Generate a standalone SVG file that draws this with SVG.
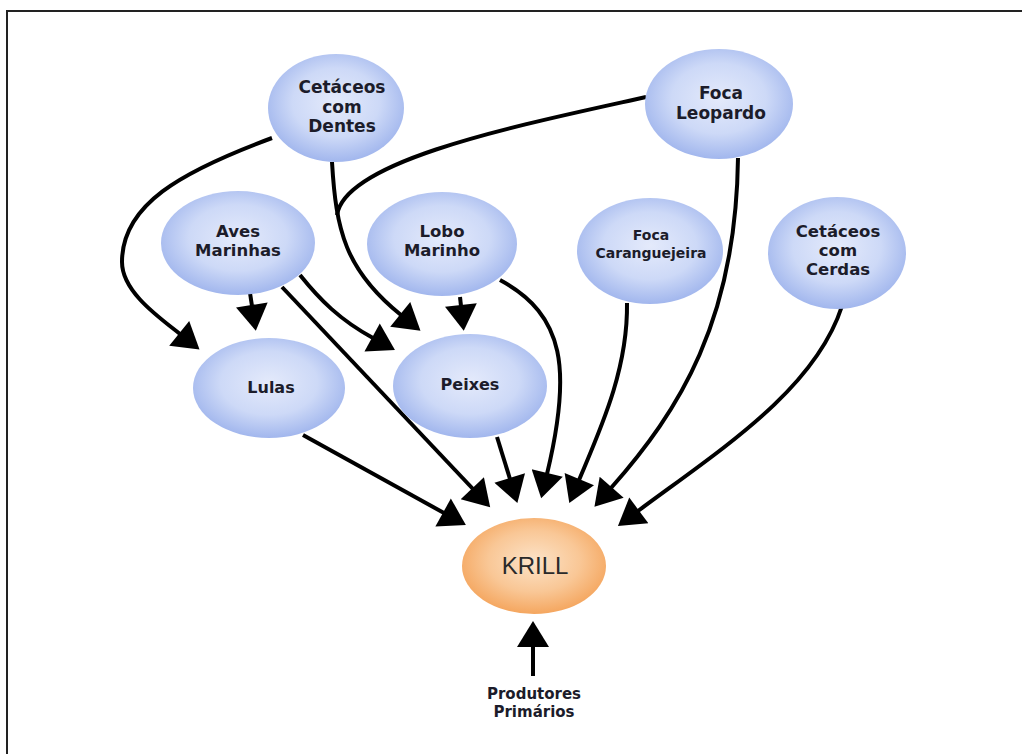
<svg xmlns="http://www.w3.org/2000/svg" width="1022" height="754" viewBox="0 0 1022 754">
<defs>
<radialGradient id="blue" cx="50%" cy="45%" r="58%">
<stop offset="0" stop-color="#e4eafb"/>
<stop offset="0.55" stop-color="#cdd9f7"/>
<stop offset="1" stop-color="#9cb2ec"/>
</radialGradient>
<radialGradient id="orange" cx="50%" cy="45%" r="58%">
<stop offset="0" stop-color="#fce3c8"/>
<stop offset="0.55" stop-color="#f9c796"/>
<stop offset="1" stop-color="#f4a258"/>
</radialGradient>
<marker id="arr" markerUnits="userSpaceOnUse" markerWidth="28" markerHeight="32" viewBox="0 0 26 32" refX="1" refY="16" orient="auto">
<path d="M0,0 L26,16 L0,32 z" fill="#000"/>
</marker>
</defs>
<style>
.n{fill:url(#blue);}
.k{fill:url(#orange);}
.t{font-family:"DejaVu Sans","Liberation Sans",sans-serif;font-weight:bold;fill:#1c1c2a;text-anchor:middle;}
.c path{fill:none;stroke:#000;stroke-width:4;marker-end:url(#arr);}
.c path.m{marker-end:none;}
</style>
<rect x="0" y="0" width="1022" height="754" fill="#fff"/>
<rect x="7" y="11" width="1030" height="760" fill="#fff" stroke="#222" stroke-width="2"/>

<g id="connectors" class="c">
<path class="m" d="M646,97 C520,125 345,160 337,215"/>
<path d="M272,138 C180,172 122,205 122,262 C122,292 160,318 180,334"/>
<path d="M332,162 C336,230 345,270 401,315"/>
<path d="M250,293 L252,306"/>
<path d="M300,275 C320,300 340,320 373,338"/>
<path d="M282,287 L473,489"/>
<path d="M303,435 L444,513"/>
<path d="M497,437 L510,479"/>
<path d="M460,297 L461,306"/>
<path d="M500,280 C565,315 572,370 547,474"/>
<path d="M627,303 C628,370 600,430 579,480"/>
<path d="M738,158 C736,320 680,410 611,488"/>
<path d="M842,306 C815,390 720,450 638,511"/>
<path d="M533,676 L533,646"/>
</g>

<g id="dentes"><ellipse class="n" cx="336" cy="108" rx="68" ry="54"/>
<text class="t" x="342" y="93" font-size="17">Cetáceos</text>
<text class="t" x="342" y="113" font-size="17">com</text>
<text class="t" x="342" y="132" font-size="17">Dentes</text></g>

<g id="leopardo"><ellipse class="n" cx="719" cy="104" rx="74" ry="55"/>
<text class="t" x="721" y="99" font-size="17">Foca</text>
<text class="t" x="721" y="119" font-size="17">Leopardo</text></g>

<g id="aves"><ellipse class="n" cx="238" cy="243" rx="77" ry="52"/>
<text class="t" x="238" y="237" font-size="16.5">Aves</text>
<text class="t" x="238" y="256" font-size="16.5">Marinhas</text></g>

<g id="lobo"><ellipse class="n" cx="442" cy="244" rx="75" ry="52"/>
<text class="t" x="442" y="237" font-size="16.5">Lobo</text>
<text class="t" x="442" y="256" font-size="16.5">Marinho</text></g>

<g id="caranguejeira"><ellipse class="n" cx="650" cy="251" rx="73" ry="53"/>
<text class="t" x="651" y="240" font-size="14">Foca</text>
<text class="t" x="651" y="258" font-size="14">Caranguejeira</text></g>

<g id="cerdas"><ellipse class="n" cx="837" cy="253" rx="69" ry="56"/>
<text class="t" x="838" y="237" font-size="16.5">Cetáceos</text>
<text class="t" x="838" y="256" font-size="16.5">com</text>
<text class="t" x="838" y="275" font-size="16.5">Cerdas</text></g>

<g id="lulas"><ellipse class="n" cx="269" cy="388" rx="76" ry="50"/>
<text class="t" x="271" y="393" font-size="16">Lulas</text></g>

<g id="peixes"><ellipse class="n" cx="470" cy="386" rx="77" ry="52"/>
<text class="t" x="470" y="390" font-size="16">Peixes</text></g>

<g id="krill"><ellipse class="k" cx="534" cy="566" rx="72" ry="48"/>
<text x="535" y="574" font-family="Liberation Sans, Arial, sans-serif" font-size="24" fill="#2a2a2a" text-anchor="middle">KRILL</text></g>

<g id="produtores">
<text class="t" x="534" y="699" font-size="15">Produtores</text>
<text class="t" x="534" y="717" font-size="15">Primários</text></g>
</svg>
